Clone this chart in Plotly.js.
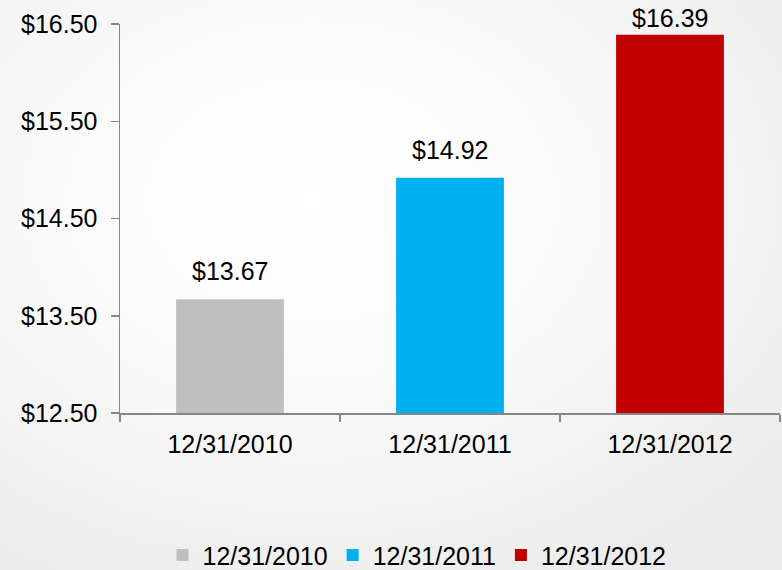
<!DOCTYPE html>
<html>
<head>
<meta charset="utf-8">
<script src="https://cdn.plot.ly/plotly-3.0.1.min.js"></script>
<style>
  html, body { margin: 0; padding: 0; }
  body { width: 782px; height: 570px; overflow: hidden;
         background: radial-gradient(ellipse 75% 75% at 40% 35%, #ffffff 0%, #fafafa 45%, #ececec 100%); }
  #chart { width: 782px; height: 570px; }
</style>
</head>
<body>
<div id="chart"></div>
<script>
const categories = ["12/31/2010", "12/31/2011", "12/31/2012"];
const values = [13.67, 14.92, 16.39];
const colors = ["#bfbfbf", "#00b0f0", "#c00000"];
const yTicks = [12.5, 13.5, 14.5, 15.5, 16.5];
const labelShift = [12, 12, 1];

const FONT = "Liberation Sans, Arial, sans-serif";

const traces = categories.map((c, i) => ({
  type: "bar",
  name: c,
  x: [c],
  y: [values[i]],
  width: 0.49,
  marker: { color: colors[i] },
  hoverinfo: "skip"
}));

const annotations = categories.map((c, i) => ({
  x: c, y: values[i], xref: "x", yref: "y",
  text: "$" + values[i].toFixed(2),
  showarrow: false,
  yanchor: "bottom",
  yshift: labelShift[i],
  font: { family: FONT, size: 25, color: "#000" }
}));

const layout = {
  width: 782, height: 570,
  paper_bgcolor: "rgba(0,0,0,0)",
  plot_bgcolor: "rgba(0,0,0,0)",
  margin: { l: 120, r: 2, t: 24, b: 157 },
  barmode: "overlay",
  font: { family: FONT, size: 25, color: "#000" },
  annotations: annotations,
  xaxis: {
    type: "category",
    categoryorder: "array",
    categoryarray: categories,
    showline: true, linecolor: "#868686", linewidth: 1.5,
    ticks: "outside", tickson: "boundaries", ticklen: 7, tickcolor: "#868686", tickwidth: 1.5,
    showgrid: false, zeroline: false,
    ticklabelstandoff: 8,
    tickfont: { size: 25, color: "#000" }
  },
  yaxis: {
    range: [12.5, 16.5],
    tickvals: yTicks,
    tickformat: "$.2f",
    showline: true, linecolor: "#868686", linewidth: 1.5,
    ticks: "outside", ticklen: 8, tickcolor: "#868686", tickwidth: 1.5,
    showgrid: false, zeroline: false,
    ticklabelstandoff: 8,
    tickfont: { size: 25, color: "#000" }
  },
  showlegend: true,
  legend: {
    orientation: "h",
    x: 0.45, xanchor: "center",
    yref: "container", y: 0.026, yanchor: "middle",
    font: { size: 25, color: "#000" },
    itemwidth: 30,
    bgcolor: "rgba(0,0,0,0)"
  }
};

Plotly.newPlot("chart", traces, layout, { displayModeBar: false, staticPlot: true });
</script>
</body>
</html>
